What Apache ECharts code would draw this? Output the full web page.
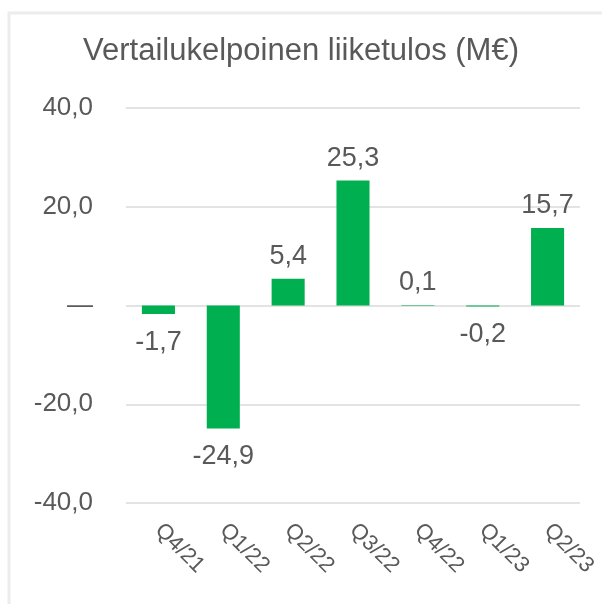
<!DOCTYPE html>
<html>
<head>
<meta charset="utf-8">
<script src="https://cdn.jsdelivr.net/npm/echarts@6/dist/echarts.min.js"></script>
<style>
  html, body { margin: 0; padding: 0; background: #fff; }
  #chart { width: 602px; height: 604px; }
</style>
</head>
<body>
<div id="chart"></div>
<script>
var quarters = ['Q4/21', 'Q1/22', 'Q2/22', 'Q3/22', 'Q4/22', 'Q1/23', 'Q2/23'];
var ebit = [-1.7, -24.9, 5.4, 25.3, 0.1, -0.2, 15.7];

var fmt = function (v) {
    if (v === 0) return '—';
    return v.toFixed(1).replace('.', ',');
};

var chart = echarts.init(document.getElementById('chart'));
var option = {
    backgroundColor: '#fff',
    textStyle: { fontFamily: '"Liberation Sans", Arial, sans-serif' },
    graphic: [{
        type: 'rect',
        shape: { x: 9, y: 13, width: 700, height: 700 },
        style: { fill: 'none', stroke: '#ececec', lineWidth: 3 },
        silent: true
    }],
    title: {
        text: 'Vertailukelpoinen liiketulos (M€)',
        left: 'center',
        top: 31,
        textStyle: { fontSize: 31, fontWeight: 'normal', color: '#595959' }
    },
    grid: { left: 126, right: 22, top: 108, bottom: 101 },
    xAxis: {
        type: 'category',
        data: quarters,
        axisLine: { show: false },
        axisTick: { show: false },
        axisLabel: { rotate: -45, margin: 24, fontSize: 22, color: '#595959', interval: 0 }
    },
    yAxis: {
        type: 'value',
        min: -40,
        max: 40,
        interval: 20,
        axisLine: { show: false },
        axisTick: { show: false },
        axisLabel: { fontSize: 26, color: '#595959', margin: 33, formatter: fmt },
        splitLine: { lineStyle: { color: '#e3e3e3', width: 2 } }
    },
    series: [{
        type: 'bar',
        barWidth: '51%',
        itemStyle: { color: '#00b050' },
        data: ebit.map(function (v) {
            return {
                value: v,
                label: v < 0 ? { position: 'bottom', distance: 15 } : { position: 'top', distance: 9 }
            };
        }),
        label: {
            show: true,
            fontSize: 27,
            color: '#595959',
            formatter: function (p) { return fmt(p.value); }
        }
    }]
};
chart.setOption(option);
</script>
</body>
</html>
